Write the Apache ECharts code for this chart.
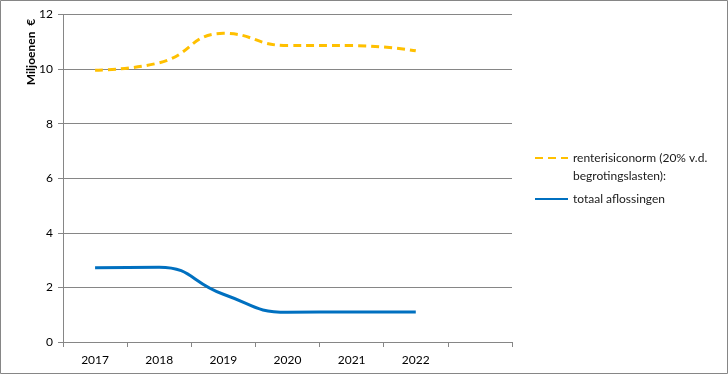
<!DOCTYPE html>
<html><head><meta charset="utf-8">
<script src="https://cdn.jsdelivr.net/npm/echarts@6/dist/echarts.min.js"></script>
<style>html,body{margin:0;padding:0;background:#fff}#c{width:728px;height:374px}</style>
</head><body><div id="c"></div>
<script>
const categories = ['2017','2018','2019','2020','2021','2022',''];
const renteNorm = [9.96, 10.23, 11.31, 10.86, 10.86, 10.67];
const aflossingen = [2.72, 2.74, 1.75, 1.09, 1.10, 1.10];
const yTicks = {min: 0, max: 12, interval: 2};
const names = ['renterisiconorm (20% v.d.\nbegrotingslasten):', 'totaal aflossingen'];
const yTitle = 'Miljoenen  €';
const F = 'Lato, "Liberation Sans", sans-serif';
const chart = echarts.init(document.getElementById('c'), null, {renderer:'canvas'});
chart.setOption({
  animation: false,
  backgroundColor: '#fff',
  textStyle: {fontFamily: F},
  graphic: [
    {type:'rect', shape:{x:0.5,y:0.5,width:727,height:373}, style:{fill:'none', stroke:'#868686', lineWidth:1}, z:-1},
    {type:'text', x: 31, y: 52, rotation: Math.PI/2, style:{text: yTitle, fontFamily: F, fontSize: 12, fontWeight: 'bold', fill: '#000', align: 'center', verticalAlign: 'middle'}}
  ],
  grid: {left: 63, right: 216, top: 14.5, bottom: 32, containLabel: false, outerBoundsMode: 'none'},
  legend: {
    orient: 'vertical', left: 534, top: 131, padding: 0, itemWidth: 33, itemHeight: 10, itemGap: 5,
    itemStyle: {opacity: 0},
    formatter: function (n) { return n.indexOf('\n') >= 0 ? ' \n' + n : n; },
    textStyle: {fontFamily: F, fontSize: 12, color: '#1a1a1a', lineHeight: 18},
    data: names
  },
  xAxis: {
    type: 'category', data: categories, boundaryGap: true,
    axisLine: {lineStyle: {color: '#868686'}},
    axisTick: {show: true, length: 5, lineStyle: {color: '#868686'}},
    axisLabel: {fontFamily: F, fontSize: 12, color: '#000', margin: 12},
    splitLine: {show: false}
  },
  yAxis: {
    type: 'value', min: yTicks.min, max: yTicks.max, interval: yTicks.interval,
    axisLine: {show: true, lineStyle: {color: '#868686'}},
    axisTick: {show: true, length: 5, lineStyle: {color: '#868686'}},
    axisLabel: {fontFamily: F, fontSize: 12, color: '#000', margin: 10},
    splitLine: {lineStyle: {color: '#868686'}}
  },
  series: [
    {name: names[0], type: 'line', data: renteNorm, smooth: 0.5, symbol: 'none',
     lineStyle: {color: '#FFC000', width: 3, type: [8,5]}, itemStyle: {color: '#FFC000'}},
    {name: names[1], type: 'line', data: aflossingen, smooth: 0.5, symbol: 'none',
     lineStyle: {color: '#0070C0', width: 3}, itemStyle: {color: '#0070C0'}}
  ]
});
</script></body></html>
